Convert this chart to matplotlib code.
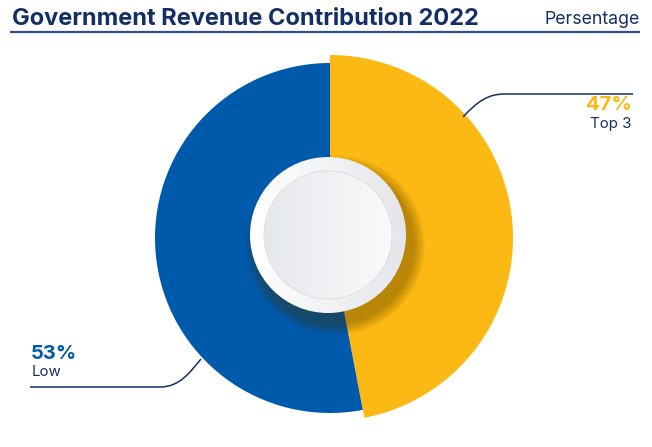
import matplotlib
matplotlib.use("Agg")
import matplotlib.pyplot as plt
import numpy as np
from matplotlib.patches import Circle, PathPatch
from matplotlib.path import Path

# data
labels = ["Top 3", "Low"]
values = [47, 53]
pct_text = ["47%", "53%"]
colors = ["#fdb913", "#005aab"]

title = "Government Revenue Contribution 2022"
unit = "Persentage"

navy = "#142f66"
W, H = 652, 447

plt.rcParams['font.family'] = ['Inter', 'DejaVu Sans']

fig = plt.figure(figsize=(W / 100, H / 100), dpi=100)
ax = fig.add_axes([0, 0, 1, 1])


def Y(py):
    # pixel row -> data y
    return H - py


cx, cy = 330, Y(238)
wedges, _ = ax.pie(values, colors=colors, startangle=90, counterclock=False,
                   center=(cx, cy), radius=183, frame=True,
                   wedgeprops=dict(linewidth=0))
wedges[0].set_radius(183)
wedges[1].set_radius(175)

# shadow of the centre disc
for i in range(12):
    r = 78 + 12 - i
    ax.add_patch(Circle((cx + 5, cy - 7), r, color="#4a3500", alpha=0.035, lw=0, zorder=3))

# centre disc with gradients
r_out, r_in = 78, 64
dx, dy = -2, 3
grad = np.linspace(0, 1, 256).reshape(1, -1)
outer = Circle((cx + dx, cy + dy), r_out, transform=ax.transData, color="none")
ax.add_patch(outer)
im = ax.imshow(grad, cmap=matplotlib.colors.LinearSegmentedColormap.from_list("o", ["#ffffff", "#e4e6e9"]),
               extent=(cx + dx - r_out, cx + dx + r_out, cy + dy - r_out, cy + dy + r_out),
               zorder=4, interpolation="bilinear", aspect="auto")
im.set_clip_path(outer)

inner = Circle((cx + dx, cy + dy), r_in, facecolor="none", edgecolor="#dcdcdc", lw=0.6, zorder=6)
ax.add_patch(inner)
im2 = ax.imshow(grad, cmap=matplotlib.colors.LinearSegmentedColormap.from_list("i", ["#e5e8eb", "#f9fafb"]),
                extent=(cx + dx - r_in, cx + dx + r_in, cy + dy - r_in, cy + dy + r_in),
                zorder=5, interpolation="bilinear", aspect="auto")
im2.set_clip_path(inner)

# connectors
p1 = Path([(463, Y(117)), (478, Y(101)), (488, Y(94)), (505, Y(94)), (633, Y(94))],
          [Path.MOVETO, Path.CURVE4, Path.CURVE4, Path.CURVE4, Path.LINETO])
ax.add_patch(PathPatch(p1, fc="none", ec=navy, lw=1.1, zorder=7))
p2 = Path([(30, Y(387)), (160, Y(387)), (180, Y(387)), (190, Y(372)), (201, Y(359))],
          [Path.MOVETO, Path.LINETO, Path.CURVE4, Path.CURVE4, Path.CURVE4])
ax.add_patch(PathPatch(p2, fc="none", ec=navy, lw=1.1, zorder=7))

# labels
ax.text(632, Y(105), pct_text[0], color=colors[0], fontsize=14.5, fontweight="bold",
        ha="right", va="center")
ax.text(632, Y(124), labels[0], color=navy, fontsize=10.8, ha="right", va="center")
ax.text(31, Y(354), pct_text[1], color=colors[1], fontsize=14.5, fontweight="bold",
        ha="left", va="center")
ax.text(32, Y(372), labels[1], color=navy, fontsize=10.8, ha="left", va="center")

# header
ax.text(12, Y(19), title, color=navy, fontsize=17, fontweight="bold", ha="left", va="center")
ax.text(640, Y(19), unit, color=navy, fontsize=12.8, ha="right", va="center")
ax.plot([10, 640], [Y(32), Y(32)], color="#2d4f8c", lw=1.6, solid_capstyle="butt")

ax.set_xlim(0, W)
ax.set_ylim(0, H)
ax.set_aspect("auto")
ax.axis("off")

fig.savefig("out.png", dpi=100)
